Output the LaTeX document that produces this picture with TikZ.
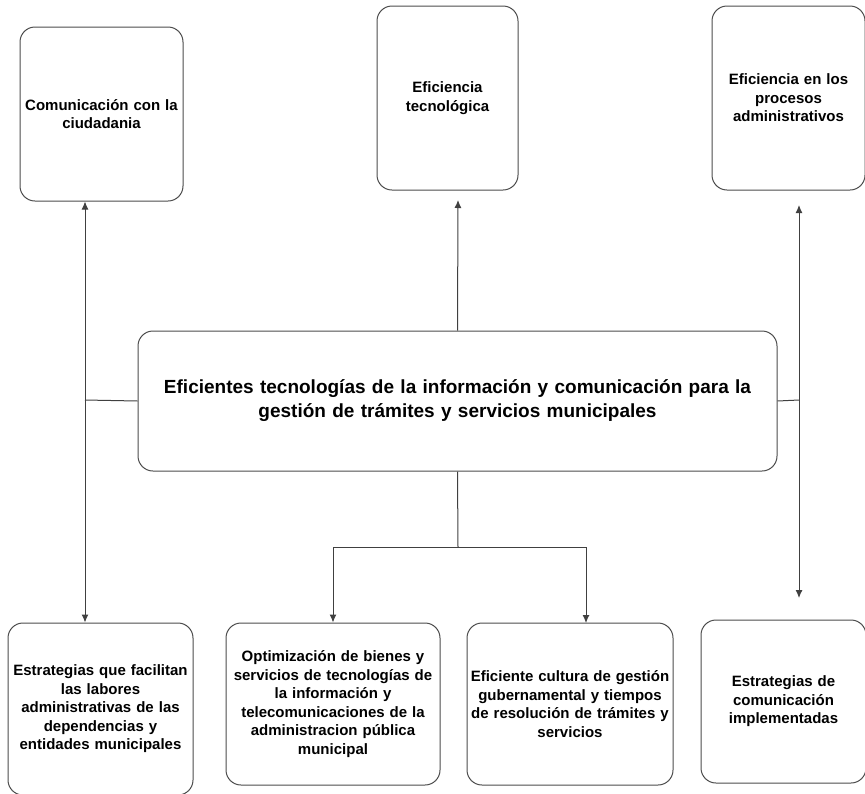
\documentclass[tikz,border=0pt]{standalone}
\usepackage{fontspec}
\setmainfont{Liberation Sans}
\usetikzlibrary{arrows.meta}

\begin{document}
\begin{tikzpicture}[x=1pt,y=-1pt,
  box/.style={draw=black!70, line width=1pt, rounded corners=15pt, align=center,
    inner xsep=2pt, inner ysep=0pt, font=\bfseries\fontsize{15}{18.5}\selectfont},
  link/.style={draw=black!75, line width=1pt},
  arr/.style={link, -{Latex[length=8pt,width=7pt]}}]

\useasboundingbox (0,0) rectangle (865,793);

% Central problem
\node[box, text width=635pt, minimum height=140pt,
  font=\bfseries\fontsize{19}{24}\selectfont] (tree) at (457.5,401)
  {Eficientes tecnologías de la información y comunicación para la\\gestión de trámites y servicios municipales};

% Ends (top row)
\node[box, text width=159pt, minimum height=174pt] (tl) at (101.5,114) {Comunicación con la\\ciudadania};
\node[box, text width=137pt, minimum height=184pt] (tm) at (447.5,98) {Eficiencia\\tecnológica};
\node[box, text width=149pt, minimum height=184pt] (tr) at (788.5,98) {Eficiencia en los\\procesos\\administrativos};

% Means (bottom row)
\node[box, text width=181pt, minimum height=172pt] (b1) at (100.5,709) {Estrategias que facilitan\\las labores\\administrativas de las\\dependencias y\\entidades municipales};
\node[box, text width=210pt, minimum height=162pt] (b2) at (333,704) {Optimización de bienes y\\servicios de tecnologías de\\la información y\\telecomunicaciones de la\\administracion pública\\municipal};
\node[box, text width=202pt, minimum height=162pt] (b3) at (570,704) {Eficiente cultura de gestión\\gubernamental y tiempos\\de resolución de trámites y\\servicios};
\node[box, text width=161pt, minimum height=163pt] (b4) at (783.5,701.5) {Estrategias de\\comunicación\\implementadas};

% Junction points
\coordinate (lj) at (85,400);
\coordinate (rj) at (799,400);
\coordinate (rtop) at (799,205);
\coordinate (rbot) at (799,598);
\coordinate (mtop) at (458,200);
\coordinate (fork) at (458,547);
\coordinate (b3in) at (586,623);

% Left branch
\draw[link] (tree.west) -- (lj);
\draw[arr] (lj) -- (lj |- tl.south);
\draw[arr] (lj) -- (lj |- b1.north);

% Right branch
\draw[link] (tree.east) -- (rj);
\draw[arr] (rj) -- (rtop);
\draw[arr] (rj) -- (rbot);

% Middle up
\draw[arr] (tree.north) -- (mtop);

% Middle down
\draw[link] (tree.south) -- (fork);
\draw[arr] (fork) -| (b2.north);
\draw[arr] (fork) -| (b3in);

\end{tikzpicture}
\end{document}
